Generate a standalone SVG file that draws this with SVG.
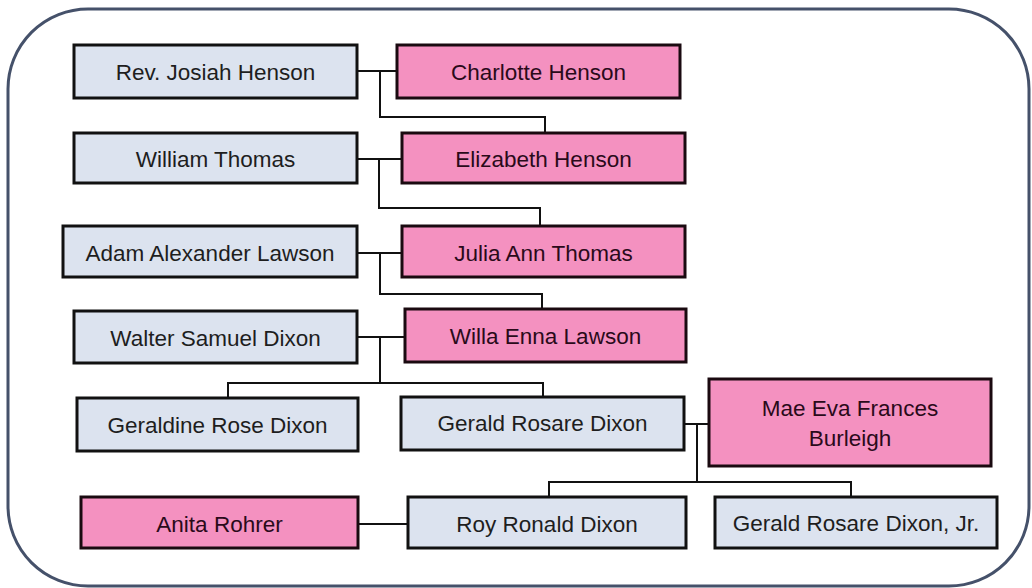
<svg xmlns="http://www.w3.org/2000/svg" width="1032" height="588" viewBox="0 0 1032 588">
<style>
.blue{fill:#dce3ef;stroke:#111;stroke-width:3}
.pink{fill:#f491c0;stroke:#1a0a10;stroke-width:3}
text{font-family:"Liberation Sans",Arial,sans-serif;font-size:22.5px;text-anchor:middle;dominant-baseline:central;fill:#1e1e1e}
.pt{fill:#2a0a1a}
.c{fill:none;stroke:#111;stroke-width:2}
</style>
<rect x="0" y="0" width="1032" height="588" fill="#ffffff"/>
<rect x="8" y="9" width="1021" height="577" rx="80" ry="80" fill="#ffffff" stroke="#45516a" stroke-width="3"/>
<g id="connectors">
<path class="c" d="M357,71 H397 M380,71 V117 H545 V133"/>
<path class="c" d="M357,159 H402 M379,159 V208 H540 V226"/>
<path class="c" d="M357,253 H402 M380,253 V294 H542 V309"/>
<path class="c" d="M357,337 H405 M380,337 V383 M228,398 V383 H543 V397"/>
<path class="c" d="M684,424 H709 M697,424 V482 M549,497 V482 H851 V497"/>
<path class="c" d="M358,524 H408"/>
</g>
<g id="n1"><rect class="blue" x="74" y="45" width="283" height="53"/><text x="215.5" y="72">Rev. Josiah Henson</text></g>
<g id="n2"><rect class="pink" x="397" y="45" width="283" height="53"/><text class="pt" x="538.5" y="72">Charlotte Henson</text></g>
<g id="n3"><rect class="blue" x="74" y="133" width="283" height="50"/><text x="215.5" y="159">William Thomas</text></g>
<g id="n4"><rect class="pink" x="402" y="133" width="283" height="50"/><text class="pt" x="543.5" y="159">Elizabeth Henson</text></g>
<g id="n5"><rect class="blue" x="63" y="226" width="294" height="51"/><text x="210" y="253">Adam Alexander Lawson</text></g>
<g id="n6"><rect class="pink" x="402" y="226" width="283" height="51"/><text class="pt" x="543.5" y="253">Julia Ann Thomas</text></g>
<g id="n7"><rect class="blue" x="74" y="311" width="283" height="52"/><text x="215.5" y="338">Walter Samuel Dixon</text></g>
<g id="n8"><rect class="pink" x="405" y="309" width="281" height="53"/><text class="pt" x="545.5" y="336">Willa Enna Lawson</text></g>
<g id="n9"><rect class="blue" x="77" y="398" width="281" height="53"/><text x="217.5" y="425">Geraldine Rose Dixon</text></g>
<g id="n10"><rect class="blue" x="401" y="397" width="283" height="53"/><text x="542.5" y="423">Gerald Rosare Dixon</text></g>
<g id="n11"><rect class="pink" x="709" y="379" width="282" height="87"/><text class="pt" x="850" y="408">Mae Eva Frances</text><text class="pt" x="850" y="438">Burleigh</text></g>
<g id="n12"><rect class="pink" x="81" y="497" width="277" height="51"/><text class="pt" x="219.5" y="524">Anita Rohrer</text></g>
<g id="n13"><rect class="blue" x="408" y="497" width="278" height="51"/><text x="547" y="524">Roy Ronald Dixon</text></g>
<g id="n14"><rect class="blue" x="715" y="497" width="282" height="51"/><text x="856" y="523">Gerald Rosare Dixon, Jr.</text></g>
</svg>
